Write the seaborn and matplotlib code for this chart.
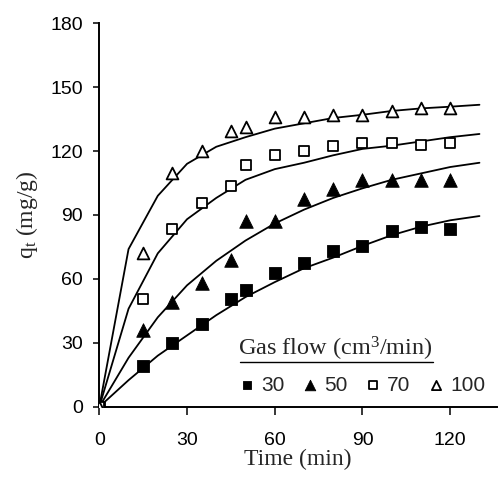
import matplotlib
matplotlib.use("Agg")
import matplotlib.pyplot as plt
from matplotlib.lines import Line2D
import seaborn as sns
import pandas as pd

# measured points (time in min, q_t in mg/g)
time_pts = [0, 15, 25, 35, 45, 50, 60, 70, 80, 90, 100, 110, 120]
q_30 = [0, 19, 30, 39, 50.5, 55, 63, 67.5, 73, 75.5, 82.5, 84.5, 83.5]
q_50 = [0, 36, 49, 58, 69, 87, 87, 97.5, 102, 106.5, 106.5, 106.5, 106.5]
q_70 = [0, 50.5, 83.5, 95.5, 103.5, 113.5, 118, 120, 122.5, 124, 124, 123, 124]
q_100 = [0, 72, 109.5, 120, 129.5, 131.5, 136, 136, 137, 137, 139, 140, 140]

# model curves
time_fit = [0, 10, 20, 30, 40, 50, 60, 70, 80, 90, 100, 110, 120, 130]
fit_30 = [0, 12.5, 24, 33.5, 43, 51.5, 58.5, 65, 70, 75.5, 80.5, 84.5, 87.5, 89.5]
fit_50 = [0, 23, 42, 57, 68.5, 78, 86, 92.5, 98, 102.5, 106.5, 109.5, 112.5, 114.5]
fit_70 = [0, 46, 72, 88, 98, 106.5, 111.5, 114.5, 118, 121, 122.5, 124.5, 126.5, 128]
fit_100 = [0, 74, 99, 114, 122, 126.5, 130.5, 133, 135.5, 137, 138.8, 140, 140.8, 141.7]

flows = ["30", "50", "70", "100"]
points = [q_30, q_50, q_70, q_100]
fits = [fit_30, fit_50, fit_70, fit_100]
markers = ["s", "^", "s", "^"]
faces = ["black", "black", "white", "white"]
sizes = [68, 95, 55, 72]

sns.set_style("ticks")
plt.rcParams["font.family"] = ["Liberation Sans", "DejaVu Sans"]
plt.rcParams["mathtext.fontset"] = "custom"
plt.rcParams["mathtext.rm"] = "Liberation Serif"
plt.rcParams["mathtext.it"] = "Liberation Serif:italic"

fig = plt.figure(figsize=(4.99, 4.82), dpi=100)
ax = fig.add_axes([0.199, 0.156, 0.797, 0.796])

for flow, q, fit, m, fc, sz in zip(flows, points, fits, markers, faces, sizes):
    df_fit = pd.DataFrame({"t": time_fit, "q": fit})
    sns.lineplot(data=df_fit, x="t", y="q", color="black", lw=1.3, ax=ax)
    df = pd.DataFrame({"t": time_pts, "q": q})
    lw = 0.6 if fc == "black" else 1.3
    sns.scatterplot(data=df, x="t", y="q", marker=m, s=sz, color=fc,
                    edgecolor="black", linewidth=lw, label=flow, ax=ax, zorder=3)

ax.set_xlim(0, 136)
ax.set_ylim(0, 180)
ax.set_xticks([0, 30, 60, 90, 120])
ax.set_yticks([0, 30, 60, 90, 120, 150, 180])
ax.tick_params(labelsize=14, width=1.1, colors="black")
ax.tick_params(axis="x", length=6, pad=12)
ax.tick_params(axis="y", length=4, pad=8)
for s in ["top", "right"]:
    ax.spines[s].set_visible(False)
for s in ["left", "bottom"]:
    ax.spines[s].set_linewidth(1.4)
    ax.spines[s].set_color("black")

ax.set_xlabel("Time (min)", family="Liberation Serif", fontsize=17, labelpad=0)
ax.set_ylabel(r"q$_{\mathrm{t}}$ (mg/g)", family="Liberation Serif", fontsize=17, labelpad=7)

leg = ax.legend(title=r"Gas flow (cm$^{\mathrm{3}}$/min)", ncol=4, frameon=False,
                loc="lower right", bbox_to_anchor=(0.997, 0.004),
                markerscale=0.78, handletextpad=0.3, columnspacing=0.8,
                handlelength=0.8, fontsize=15, borderpad=0, labelspacing=0.6,
                alignment="left")
leg.get_title().set_family("Liberation Serif")
leg.get_title().set_fontsize(17.5)

# underline the legend title
fig.canvas.draw()
bb = leg.get_title().get_window_extent()
inv = fig.transFigure.inverted()
(x0, y0), (x1, y1) = inv.transform([(bb.x0 + 2, bb.y0), (bb.x1, bb.y0)])
fig.add_artist(Line2D([x0, x1], [y0 + 0.002, y1 + 0.002], color="black", lw=1.0))

fig.savefig("out.png", dpi=100)
